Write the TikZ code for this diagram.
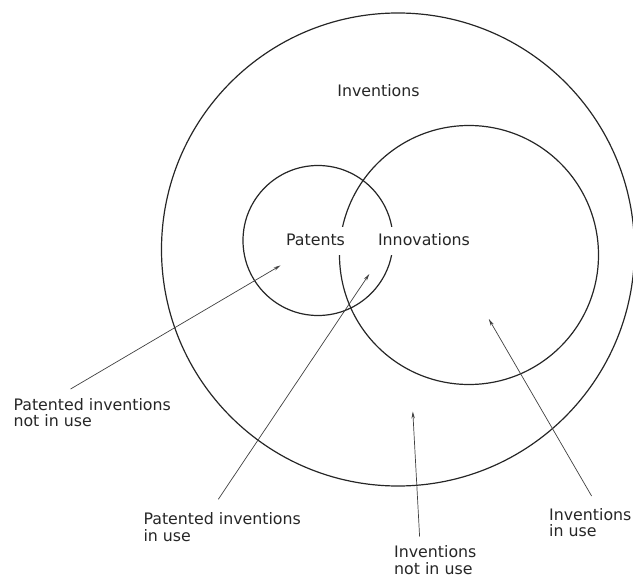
\documentclass[tikz,border=0pt]{standalone}
\usepackage{fontspec}
\setmainfont{DejaVu Sans}
\usetikzlibrary{arrows.meta}
\begin{document}
\begin{tikzpicture}[x=1pt,y=-1pt,
  ring/.style={draw=black!85, line width=1.2pt, circle, inner sep=0pt},
  lbl/.style={font=\fontsize{15.8}{16.6}\selectfont, inner sep=0pt, align=left, text=black!85},
  gap/.style={font=\fontsize{15.8}{16.6}\selectfont, fill=white, inner xsep=3pt, inner ysep=6pt, text height=12pt, text depth=3.5pt, text=black!85},
  pointer/.style={draw=black!75, line width=0.7pt, -{Stealth[length=7pt,width=3.4pt]}}]
\useasboundingbox (0,0) rectangle (633,578);
% circles
\node[ring, minimum size=473pt] (inv) at (398,249.5) {};
\node[ring, minimum size=150pt] (pat) at (318,240.5) {};
\node[ring, minimum size=259pt] (inn) at (469,255) {};
% labels inside
\node[lbl, anchor=base] (invl) at (378.5,96.5) {Inventions};
\node[gap, anchor=base] (patl) at (315.5,245) {Patents};
\node[gap, anchor=base] (innl) at (424,245) {Innovations};
% outside labels
\node[lbl, anchor=north west] (pnu) at (13.3,398) {Patented inventions\\not in use};
\node[lbl, anchor=north west] (piu) at (143.3,512.5) {Patented inventions\\in use};
\node[lbl, anchor=north west] (inu) at (394,545.5) {Inventions\\not in use};
\node[lbl, anchor=north west] (iiu) at (549,508) {Inventions\\in use};
% arrow ends
\coordinate (t1) at (70.6,389);   \coordinate (h1) at (280.6,265.4);
\coordinate (t2) at (218.3,499.3); \coordinate (h2) at (369.3,274);
\coordinate (t3) at (419.6,536.5); \coordinate (h3) at (412.8,411.5);
\coordinate (t4) at (591.6,496);   \coordinate (h4) at (488.8,319);
\draw[pointer] (t1) -- (h1);
\draw[pointer] (t2) -- (h2);
\draw[pointer] (t3) -- (h3);
\draw[pointer] (t4) -- (h4);
\end{tikzpicture}
\end{document}
